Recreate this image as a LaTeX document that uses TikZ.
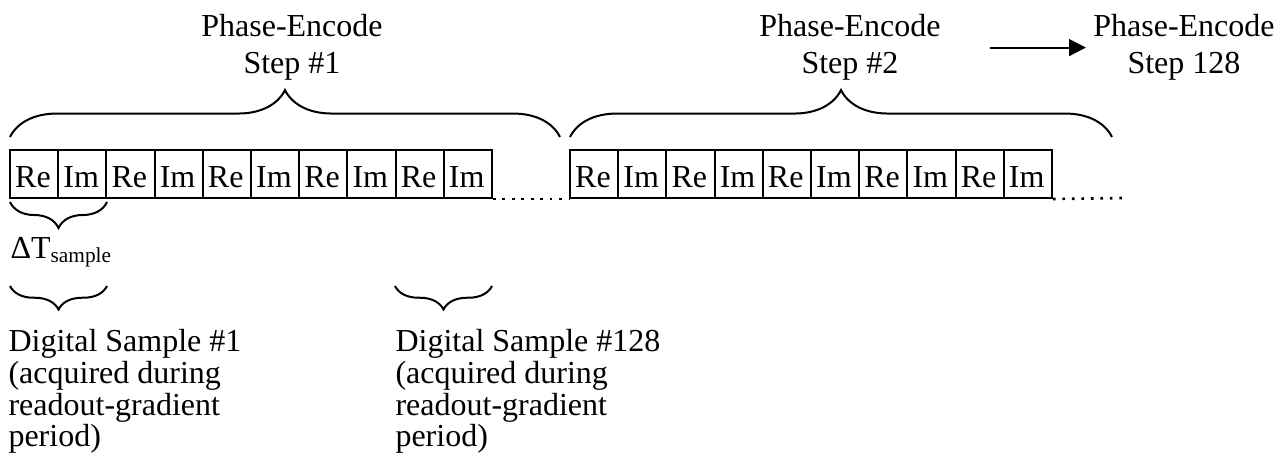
\documentclass[tikz,border=0pt]{standalone}
\usepackage{fontspec}
\setmainfont{Liberation Serif}
\usetikzlibrary{decorations.pathreplacing,arrows.meta}

\begin{document}
\begin{tikzpicture}[x=0.375pt,y=-0.375pt,
  every node/.style={inner sep=0pt, font=\fontsize{12}{13.9}\selectfont},
  label/.style={anchor=north, align=center},
  note/.style={anchor=north west, align=left, font=\fontsize{12}{11.9}\selectfont},
  cell/.style={draw, line width=0.75pt, minimum width=18.075pt, minimum height=18pt,
    text width=14.2pt, inner xsep=1.9pt, align=left, text height=9.75pt, text depth=0pt},
  bracket/.style={line width=0.75pt, decorate},
  dots/.style={line width=1pt, dash pattern=on 1pt off 2.55pt},
  pointer/.style={line width=0.75pt, -{Triangle[length=6.3pt,width=6.3pt]}}]

\useasboundingbox (0,0) rectangle (1280,466);

% two runs of Re/Im sample cells
\foreach \i in {1,...,10} {
  \pgfmathsetmacro\cx{10+48.2*(\i-0.5)}
  \node[cell] (c\i) at (\cx,174) {\ifodd\i Re\else Im\fi};
  \pgfmathsetmacro\dx{570+48.2*(\i-0.5)}
  \node[cell] (d\i) at (\dx,174) {\ifodd\i Re\else Im\fi};
}

% trailing dots after each run
\coordinate (dotsend) at (1125,198);
\draw[dots] (c10.south east) -- (d1.south west);
\draw[dots] (d10.south east) -- (dotsend);

% phase-encode step labels
\node[label] (pe1) at (292,14) {Phase-Encode\\Step \#1};
\node[label] (pe2) at (850,14) {Phase-Encode\\Step \#2};
\node[label] (pe3) at (1184,14) {Phase-Encode\\Step 128};
\coordinate (tail) at ([xshift=-38.6pt]pe3.west);
\draw[pointer, shorten >=2.6pt] (tail) -- (pe3.west);

% braces over each phase-encode step
\draw[bracket, decoration={brace, amplitude=17.6pt}] (10,137) -- (560,137);
\draw[bracket, decoration={brace, amplitude=17.6pt}] (570,137) -- (1112,137);

% sampling interval
\draw[bracket, decoration={brace, amplitude=9.75pt}] (107,202) -- (10,202);
\node[anchor=base west] (dt) at (10,258) {ΔT\textsubscript{sample}};

% digital samples
\draw[bracket, decoration={brace, amplitude=8.8pt}] (107,286) -- (10,286);
\draw[bracket, decoration={brace, amplitude=8.8pt}] (492,286) -- (395,286);
\node[note] (ds1) at (8,329) {Digital Sample \#1\\(acquired during\\readout-gradient\\period)};
\node[note] (ds128) at (395,329) {Digital Sample \#128\\(acquired during\\readout-gradient\\period)};

\end{tikzpicture}
\end{document}
